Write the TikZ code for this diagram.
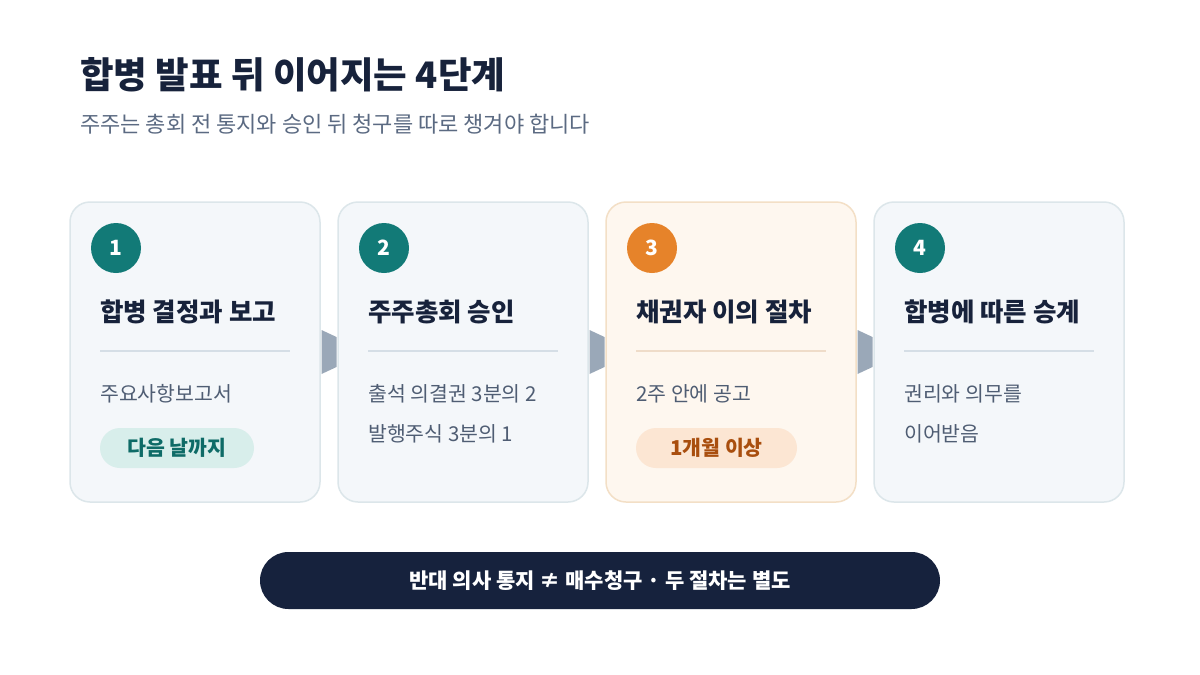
\documentclass[tikz,border=0pt]{standalone}
\usepackage{fontspec}
\setmainfont{Noto Sans CJK KR}
\usepackage{tikz}
\usetikzlibrary{positioning}
\definecolor{ink}{HTML}{17223B}
\definecolor{subgray}{HTML}{5B6A82}
\definecolor{bodygray}{HTML}{4F5D73}
\definecolor{cardbg}{HTML}{F4F7FA}
\definecolor{cardline}{HTML}{DCE6EA}
\definecolor{divline}{HTML}{D5DEE6}
\definecolor{tealnum}{HTML}{127A77}
\definecolor{tealpill}{HTML}{D8EEEB}
\definecolor{tealtext}{HTML}{0E6B67}
\definecolor{orangenum}{HTML}{E6832A}
\definecolor{orangebg}{HTML}{FEF7EF}
\definecolor{orangeline}{HTML}{F3DFC6}
\definecolor{orangediv}{HTML}{EFDCC9}
\definecolor{orangepill}{HTML}{FCE6D3}
\definecolor{orangetext}{HTML}{A94E0E}
\definecolor{arrowgray}{HTML}{9AA8B8}
\definecolor{barbg}{HTML}{16223D}

\begin{document}
\begin{tikzpicture}[x=1pt,y=-1pt,
  card/.style={draw=cardline,fill=cardbg,line width=1.5pt,rounded corners=20pt,
    minimum width=250pt,minimum height=300pt,inner sep=0pt},
  num/.style={circle,fill=tealnum,minimum size=50pt,inner sep=0pt,text=white,
    font=\fontsize{21}{24}\selectfont\bfseries},
  ttl/.style={anchor=west,inner sep=0pt,text=ink,font=\fontsize{25.5}{30}\selectfont\bfseries},
  body/.style={anchor=west,inner sep=0pt,text=bodygray,font=\fontsize{20.5}{24}\selectfont},
  pill/.style={rounded corners=20pt,minimum height=40pt,inner sep=0pt,
    font=\fontsize{20.5}{24}\selectfont\bfseries},
  conn/.style={fill=arrowgray}]
\useasboundingbox[fill=white] (0,0) rectangle (1200,675);

% heading
\node[anchor=west,inner sep=0pt,text=ink,font=\fontsize{36.5}{42}\selectfont\bfseries] (head) at (80,75) {합병 발표 뒤 이어지는 4단계};
\node[anchor=west,inner sep=0pt,text=subgray,font=\fontsize{22}{26}\selectfont] (sub) at (80,124) {주주는 총회 전 통지와 승인 뒤 청구를 따로 챙겨야 합니다};

% cards
\node[card] (c1) at (195,352) {};
\node[card] (c2) at (463,352) {};
\node[card,draw=orangeline,fill=orangebg] (c3) at (731,352) {};
\node[card] (c4) at (999,352) {};

% arrows between cards
\fill[conn] ([xshift=.75,yshift=22]c1.east) -- ([xshift=-.75,yshift=15]c2.west) -- ([xshift=-.75,yshift=-15]c2.west) -- ([xshift=.75,yshift=-22]c1.east) -- cycle;
\fill[conn] ([xshift=.75,yshift=22]c2.east) -- ([xshift=-.75,yshift=15]c3.west) -- ([xshift=-.75,yshift=-15]c3.west) -- ([xshift=.75,yshift=-22]c2.east) -- cycle;
\fill[conn] ([xshift=.75,yshift=22]c3.east) -- ([xshift=-.75,yshift=15]c4.west) -- ([xshift=-.75,yshift=-15]c4.west) -- ([xshift=.75,yshift=-22]c3.east) -- cycle;

% step 1
\node[num] (n1) at (116,248) {1};
\node[ttl] (t1) at (100,312) {합병 결정과 보고};
\draw[divline,line width=1.5pt] (100,351) -- (290,351);
\node[body] (b1) at (100,394) {주요사항보고서};
\node[pill,fill=tealpill,text=tealtext,minimum width=154pt] (p1) at (177,448) {다음 날까지};

% step 2
\node[num] (n2) at (384,248) {2};
\node[ttl] (t2) at (368,312) {주주총회 승인};
\draw[divline,line width=1.5pt] (368,351) -- (558,351);
\node[body] (b2) at (368,394) {출석 의결권 3분의 2};
\node[body] (b2b) at (368,434) {발행주식 3분의 1};

% step 3
\node[num,fill=orangenum] (n3) at (652,248) {3};
\node[ttl] (t3) at (636,312) {채권자 이의 절차};
\draw[orangediv,line width=1.5pt] (636,351) -- (826,351);
\node[body] (b3) at (636,394) {2주 안에 공고};
\node[pill,fill=orangepill,text=orangetext,minimum width=161pt] (p3) at (716.5,448) {1개월 이상};

% step 4
\node[num] (n4) at (920,248) {4};
\node[ttl] (t4) at (904,312) {합병에 따른 승계};
\draw[divline,line width=1.5pt] (904,351) -- (1094,351);
\node[body] (b4) at (904,394) {권리와 의무를};
\node[body] (b4b) at (904,434) {이어받음};

% note bar
\node[fill=barbg,text=white,rounded corners=28.5pt,minimum width=680pt,minimum height=57pt,
  inner sep=0pt,font=\fontsize{21}{24}\selectfont\bfseries] (note) at (600,580.5) {반대 의사 통지 ≠ 매수청구 · 두 절차는 별도};
\end{tikzpicture}
\end{document}
